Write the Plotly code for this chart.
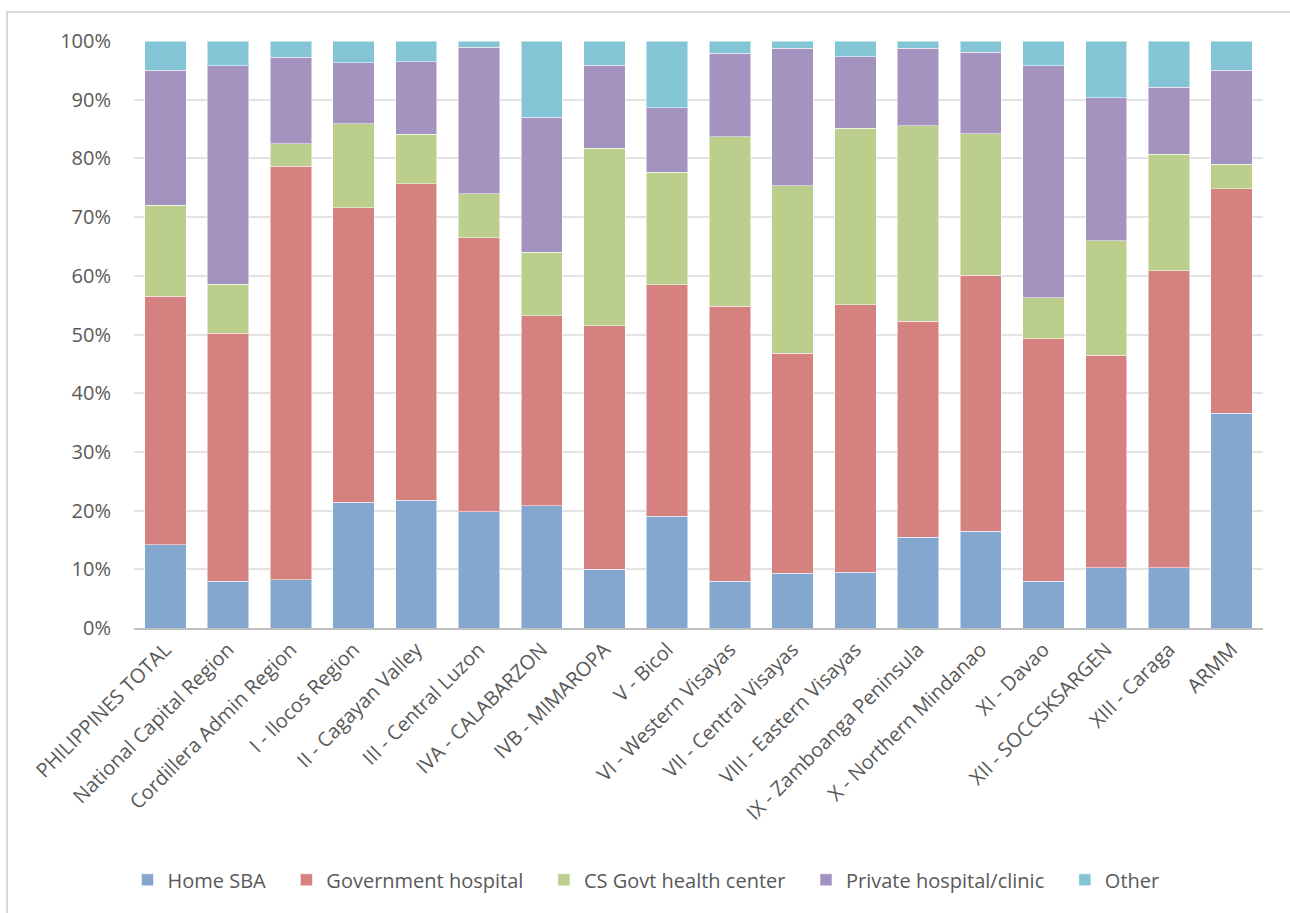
import plotly.graph_objects as go

regions = ["PHILIPPINES TOTAL", "National Capital Region", "Cordillera Admin Region",
           "I - Ilocos Region", "II - Cagayan Valley", "III - Central Luzon",
           "IVA - CALABARZON", "IVB - MIMAROPA", "V - Bicol", "VI - Western Visayas",
           "VII - Central Visayas", "VIII - Eastern Visayas", "IX - Zamboanga Peninsula",
           "X - Northern Mindanao", "XI - Davao", "XII - SOCCSKSARGEN", "XIII - Caraga", "ARMM"]

home_sba = [14.2, 8.0, 8.2, 21.4, 21.8, 19.8, 20.8, 10.0, 19.0, 8.0, 9.3, 9.5, 15.5, 16.5, 8.0, 10.3, 10.3, 36.6]
govt_hospital = [42.3, 42.2, 70.5, 50.2, 53.9, 46.7, 32.4, 41.5, 39.5, 46.8, 37.5, 45.6, 36.8, 43.6, 41.3, 36.2, 50.6, 38.2]
cs_govt_health_center = [15.5, 8.4, 3.8, 14.3, 8.4, 7.5, 10.8, 30.2, 19.1, 28.9, 28.5, 30.0, 33.3, 24.1, 7.0, 19.5, 19.8, 4.2]
private_hospital = [23.0, 37.2, 14.7, 10.4, 12.4, 24.9, 23.0, 14.2, 11.0, 14.2, 23.5, 12.2, 13.2, 13.9, 39.5, 24.3, 11.4, 16.0]
other = [5.0, 4.2, 2.8, 3.7, 3.5, 1.1, 13.0, 4.1, 11.4, 2.1, 1.2, 2.7, 1.2, 1.9, 4.2, 9.7, 7.9, 5.0]

series = [
    ("Home SBA", home_sba, "#84A7CF"),
    ("Government hospital", govt_hospital, "#D48180"),
    ("CS Govt health center", cs_govt_health_center, "#BBCE8B"),
    ("Private hospital/clinic", private_hospital, "#A492BF"),
    ("Other", other, "#83C4D5"),
]

tick_vals = [0, 10, 20, 30, 40, 50, 60, 70, 80, 90, 100]
tick_text = [f"{v}%" for v in tick_vals]

fig = go.Figure()
for name, vals, col in series:
    fig.add_trace(go.Bar(
        x=regions, y=vals, name=name + "\u00a0\u00a0\u00a0",
        marker=dict(color=col, line=dict(color="rgba(255,255,255,0.5)", width=1)),
    ))

font_family = "Open Sans"
grey = "#595959"

fig.update_layout(
    barmode="stack",
    barnorm="percent",
    bargap=0.34,
    width=1290, height=913,
    margin=dict(l=134, r=27, t=41, b=285),
    paper_bgcolor="white",
    plot_bgcolor="white",
    font=dict(family=font_family, color=grey, size=18),
    xaxis=dict(
        tickangle=-45,
        tickfont=dict(size=20, color=grey),
        showline=True, linecolor="#BFBFBF", linewidth=2,
        ticks="", showgrid=False,
    ),
    yaxis=dict(
        range=[0, 100],
        tickvals=tick_vals, ticktext=tick_text,
        tickfont=dict(size=20, color=grey),
        ticklabelstandoff=22,
        showgrid=True, gridcolor="#E3E3E3", gridwidth=2,
        zeroline=False, ticks="", ticklen=0,
    ),
    legend=dict(
        orientation="h", x=0.4606, xanchor="center",
        y=-0.429, yanchor="middle",
        font=dict(size=20, color=grey),
        traceorder="normal",
        itemwidth=30,
    ),
    shapes=[dict(
        type="rect", xref="paper", yref="paper",
        x0=-0.1125, x1=1.2, y0=-0.6, y1=1.0494,
        line=dict(color="#D9D9D9", width=2), fillcolor="rgba(0,0,0,0)", layer="below",
    )],
)

fig.write_html("out.html")
